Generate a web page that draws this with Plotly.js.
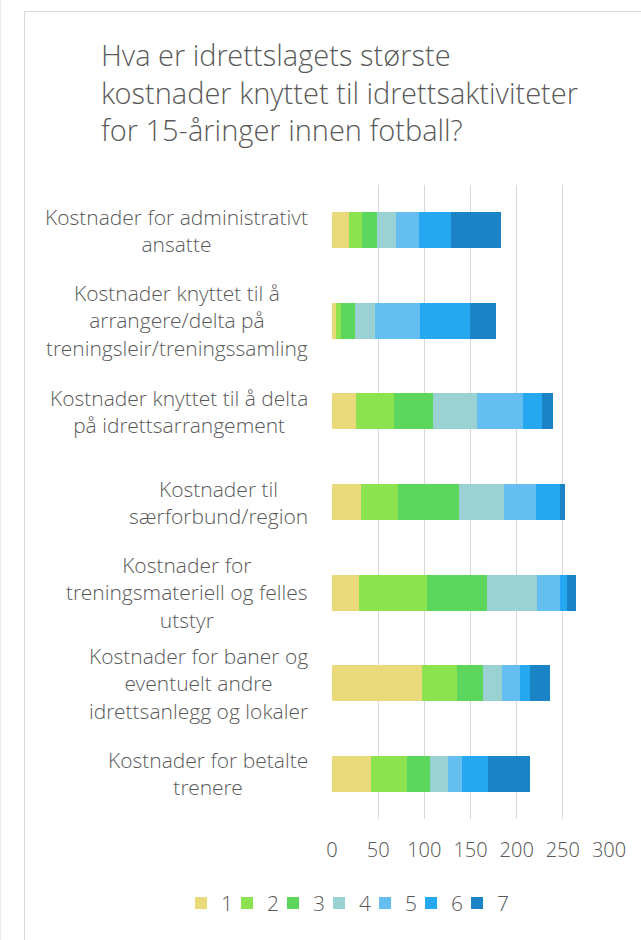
<!DOCTYPE html>
<html>
<head>
<meta charset="utf-8">
<script src="https://cdn.plot.ly/plotly-3.0.1.min.js"></script>
<style>
  html, body { margin: 0; padding: 0; background: #fff; overflow: hidden; }
  #mychart { position: absolute; left: 0; top: 0; width: 641px; height: 940px; }
  #frame {
    position: absolute; left: 24px; top: 11px; width: 700px; height: 1000px;
    border-left: 1.5px solid #d9d9d9; border-top: 1.5px solid #d9d9d9;
    pointer-events: none;
  }
  #edge { position: absolute; left: 0; top: 0; width: 1px; height: 940px; background: #ececec; }
</style>
</head>
<body>
<div id="mychart"></div>
<div id="frame"></div>
<div id="edge"></div>
<script>
// categories, top to bottom
const categories = [
  'Kostnader for administrativt<br>ansatte',
  'Kostnader knyttet til å<br>arrangere/delta på<br>treningsleir/treningssamling',
  'Kostnader knyttet til å delta<br>på idrettsarrangement',
  'Kostnader til<br>særforbund/region',
  'Kostnader for<br>treningsmateriell og felles<br>utstyr',
  'Kostnader for baner og<br>eventuelt andre<br>idrettsanlegg og lokaler',
  'Kostnader for betalte<br>trenere',
];

const seriesNames = ['1', '2', '3', '4', '5', '6', '7'];

const rank1 = [18, 4, 26, 31, 29, 97, 42];
const rank2 = [15, 6, 41, 41, 74, 38, 39];
const rank3 = [16, 15, 42, 65, 65, 28, 25];
const rank4 = [20, 22, 48, 49, 54, 21, 20];
const rank5 = [25, 48, 50, 35, 25, 20, 15];
const rank6 = [35, 54, 20, 26, 8, 10, 28];
const rank7 = [54, 29, 12, 5, 9, 22, 45];

const xTicks = [0, 50, 100, 150, 200, 250, 300];

const colors = ['#eada7b', '#8ce24f', '#5cd65d', '#9ad1d3', '#64bef0', '#25a8f0', '#1b84c7'];
const textColor = '#595959';
const fontFamily = '"Open Sans Light", "Open Sans", "Noto Sans", sans-serif';

const seriesValues = [rank1, rank2, rank3, rank4, rank5, rank6, rank7];

const data = seriesValues.map((vals, i) => ({
  type: 'bar',
  orientation: 'h',
  name: seriesNames[i],
  x: vals,
  y: categories,
  marker: { color: colors[i], line: { width: 0 } },
  hoverinfo: 'none',
}));

// zero-length transparent spacer entry so the tight legend doesn't clip "7"
data.push({
  type: 'bar',
  orientation: 'h',
  name: ' ',
  x: [0],
  y: [categories[0]],
  marker: { color: 'rgba(0,0,0,0)', line: { width: 0 } },
  hoverinfo: 'none',
});

// category labels, right aligned block with centred lines
const annotations = categories.map(c => ({
  text: c,
  xref: 'paper',
  yref: 'y',
  x: -0.079,
  y: c,
  xanchor: 'right',
  yanchor: 'middle',
  align: 'center',
  showarrow: false,
  font: { family: fontFamily, size: 21, weight: 300, color: textColor },
}));

const layout = {
  width: 641,
  height: 940,
  margin: { l: 332, r: 32, t: 185, b: 121 },
  paper_bgcolor: 'rgba(0,0,0,0)',
  plot_bgcolor: 'rgba(0,0,0,0)',
  barmode: 'stack',
  bargap: 0.603,
  title: {
    text: 'Hva er idrettslagets største<br>kostnader knyttet til idrettsaktiviteter<br>for 15-åringer innen fotball?',
    xref: 'container',
    yref: 'container',
    x: 101 / 641,
    xanchor: 'left',
    y: 1 - 66 / 940,
    yanchor: 'middle',
    font: { family: fontFamily, size: 29, weight: 300, color: textColor },
  },
  xaxis: {
    range: [0, 300],
    tickvals: xTicks,
    ticktext: xTicks.map(String),
    showgrid: true,
    gridcolor: '#d9d9d9',
    gridwidth: 1,
    zeroline: false,
    showline: false,
    ticks: '',
    ticklabelstandoff: 17,
    tickfont: { family: fontFamily, size: 20, weight: 300, color: textColor },
    fixedrange: true,
  },
  yaxis: {
    type: 'category',
    autorange: 'reversed',
    showticklabels: false,
    showgrid: false,
    zeroline: false,
    ticks: '',
    fixedrange: true,
  },
  showlegend: true,
  legend: {
    orientation: 'h',
    traceorder: 'normal',
    x: -0.545,
    xanchor: 'left',
    y: -0.133,
    yanchor: 'middle',
    entrywidth: 1,
    font: { family: fontFamily, size: 21, weight: 300, color: textColor },
    bgcolor: 'rgba(0,0,0,0)',
  },
  annotations: annotations,
  hovermode: false,
};

const config = {
  displayModeBar: false,
  staticPlot: true,
};

Plotly.newPlot('mychart', data, layout, config);
</script>
</body>
</html>
